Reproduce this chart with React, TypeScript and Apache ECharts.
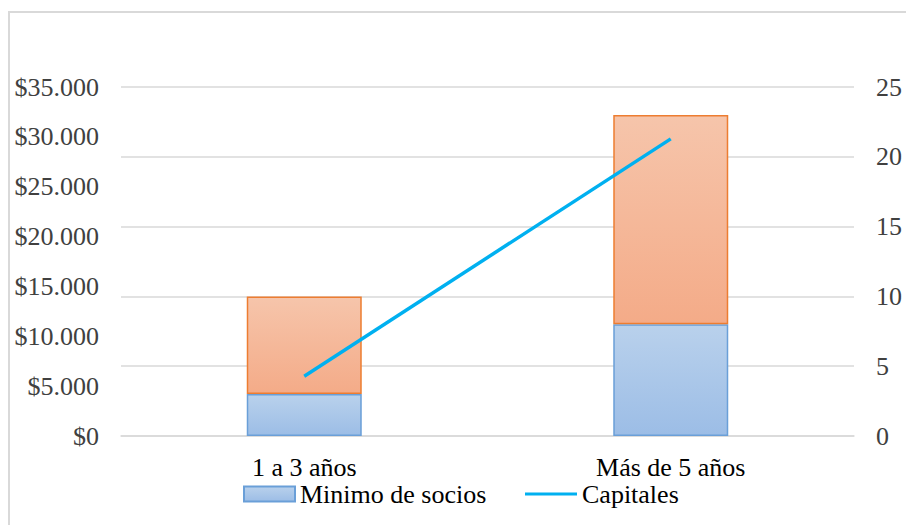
import React, { useEffect, useRef } from "react";
import * as echarts from "echarts";

const categories = ["1 a 3 años", "Más de 5 años"];
const minimoSocios = [3, 8];
const restoSocios = [7, 15];
const capitales = [6000, 29800];
const leftTicks = { min: 0, max: 35000, interval: 5000 };
const rightTicks = { min: 0, max: 25, interval: 5 };

const FONT = "Liberation Serif";
const TEXT = "#404040";
const FS = 26;

function fmtMoney(v: number): string {
  if (v === 0) return "$0";
  const s = Math.round(v).toString();
  return "$" + s.replace(/\B(?=(\d{3})+(?!\d))/g, ".");
}

export default function App() {
  const ref = useRef<HTMLDivElement>(null);
  useEffect(() => {
    if (!ref.current) return;
    const chart = echarts.init(ref.current, null, { renderer: "svg" });
    const blue = {
      type: "linear", x: 0, y: 0, x2: 0, y2: 1,
      colorStops: [{ offset: 0, color: "#b9d1ec" }, { offset: 1, color: "#9cbde6" }],
    };
    const orange = {
      type: "linear", x: 0, y: 0, x2: 0, y2: 1,
      colorStops: [{ offset: 0, color: "#f6c5ab" }, { offset: 1, color: "#f4ab88" }],
    };
    chart.setOption({
      animation: false,
      backgroundColor: "#ffffff",
      textStyle: { fontFamily: FONT },
      grid: { left: 121, right: 53, top: 87, bottom: 89, containLabel: false },
      graphic: [
        { type: "line", shape: { x1: 8, y1: 12, x2: 906, y2: 12 }, style: { stroke: "#d9d9d9", lineWidth: 2 } },
        { type: "line", shape: { x1: 9, y1: 12, x2: 9, y2: 525 }, style: { stroke: "#d9d9d9", lineWidth: 2 } },
      ],
      legend: [
        {
          data: [{ name: "Minimo de socios", icon: "rect" }],
          left: 243, top: 481, itemWidth: 51, itemHeight: 15, padding: 0, itemGap: 0,
          textStyle: { fontFamily: FONT, fontSize: FS, color: "#000" },
        },
        {
          data: [{ name: "Capitales", icon: "rect" }],
          left: 525, top: 481, itemWidth: 52, itemHeight: 3, padding: 0, itemGap: 0,
          itemStyle: { color: "#00b0f0", borderWidth: 0 },
          lineStyle: { opacity: 0 },
          textStyle: { fontFamily: FONT, fontSize: FS, color: "#000" },
        },
      ],
      xAxis: {
        type: "category",
        data: categories,
        axisLine: { lineStyle: { color: "#d9d9d9", width: 1.5 } },
        axisTick: { show: false },
        axisLabel: { color: "#000", fontFamily: FONT, fontSize: FS, margin: 18 },
      },
      yAxis: [
        {
          type: "value",
          position: "left",
          min: leftTicks.min, max: leftTicks.max, interval: leftTicks.interval,
          splitLine: { show: false },
          axisLine: { show: false },
          axisTick: { show: false },
          axisLabel: { color: TEXT, fontFamily: FONT, fontSize: FS, margin: 22, formatter: fmtMoney },
        },
        {
          type: "value",
          position: "right",
          min: rightTicks.min, max: rightTicks.max, interval: rightTicks.interval,
          splitLine: { show: true, lineStyle: { color: "#d9d9d9", width: 1.5 } },
          axisLine: { show: false },
          axisTick: { show: false },
          axisLabel: { color: TEXT, fontFamily: FONT, fontSize: FS, margin: 22 },
        },
      ],
      series: [
        {
          name: "Minimo de socios",
          type: "bar",
          stack: "s",
          yAxisIndex: 1,
          barWidth: 115,
          data: minimoSocios,
          itemStyle: { color: blue, borderColor: "#6a9fd8", borderWidth: 1.5 },
        },
        {
          name: "Resto",
          type: "bar",
          stack: "s",
          yAxisIndex: 1,
          barWidth: 115,
          data: restoSocios,
          itemStyle: { color: orange, borderColor: "#ed7d31", borderWidth: 1.5 },
        },
        {
          name: "Capitales",
          type: "line",
          yAxisIndex: 0,
          data: capitales,
          symbol: "none",
          lineStyle: { color: "#00b0f0", width: 3.5 },
          itemStyle: { color: "#00b0f0" },
        },
      ],
    } as any);
    return () => chart.dispose();
  }, []);
  return (
    <div
      ref={ref}
      style={{ position: "fixed", left: 0, top: 0, width: 907, height: 525, background: "#fff" }}
    />
  );
}
